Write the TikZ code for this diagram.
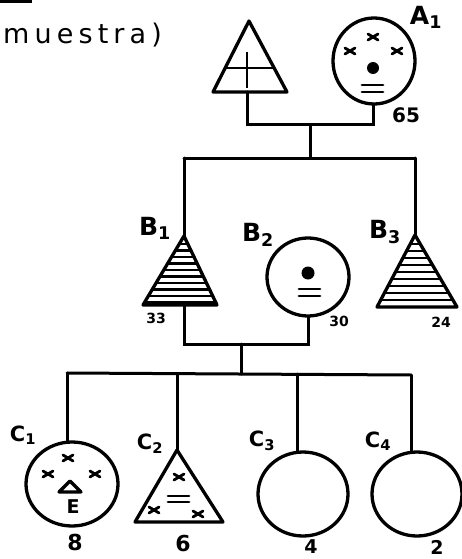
\documentclass[tikz,border=0pt]{standalone}
\usepackage{fontspec}
\setmainfont{DejaVu Sans}
\newfontfamily\typefont[LetterSpace=19]{DejaVu Sans}
\tikzset{
  sym/.style={line width=3.3pt, line join=round},
  conn/.style={line width=3pt, line cap=round},
  xstroke/.style={line width=2.8pt, line cap=round},
  hatch/.style={line width=2.2pt},
  lbl/.style={font=\bfseries\fontsize{25}{25}\selectfont, inner sep=0pt},
  clbl/.style={font=\bfseries\fontsize{21}{21}\selectfont, inner sep=0pt},
  num/.style={font=\bfseries\fontsize{14}{14}\selectfont, inner sep=0pt},
  big/.style={font=\bfseries\fontsize{22}{22}\selectfont, inner sep=0pt},
  low/.style={font=\bfseries\fontsize{19}{19}\selectfont, inner sep=0pt},
}
\newcommand{\xmk}[2]{\draw[xstroke] (#1-5,#2-3) -- (#1+5,#2+3) (#1-5,#2+3) -- (#1+5,#2-3);}
\begin{document}
\begin{tikzpicture}[x=1pt,y=-1pt]
\useasboundingbox (0,0) rectangle (461,559);
% top-left remnant bar and caption
\fill (0,0) rectangle (32,3.5);
\node[anchor=west, inner sep=0pt] (title) at (3,35) {\typefont\fontsize{27}{27}\selectfont muestra)};

% ---------- generation A ----------
% father (triangle)
\coordinate (Fapex) at (249,21);
\coordinate (Fl) at (213,92);
\coordinate (Fr) at (287,92);
\coordinate (Fb) at (247,92);
\draw[sym] (Fapex) -- (Fr) -- (Fl) -- cycle;
\draw[line width=2.8pt] (225,68) -- (274,68);
\draw[line width=2.6pt] (247,52) -- (247,88);
% mother A1 (circle)
\coordinate (A1c) at (374,61);
\coordinate (A1b) at (373,104);
\draw[sym] (A1c) ellipse [x radius=41pt, y radius=43pt];
\xmk{373}{37}\xmk{350}{51}\xmk{397}{51}
\fill (373,68) circle [radius=6pt];
\draw[xstroke] (362,85) -- (383,85) (362,92) -- (383,92);
\node[lbl] (A1) at (426,17) {A\textsubscript{1}};
\node[num, font=\bfseries\fontsize{20}{20}\selectfont] (n65) at (406,115) {65};
% couple line
\coordinate (cA) at (310,125);
\coordinate (sA) at (310,158);
\draw[conn] (Fb) |- (cA) -| (A1b);
\draw[conn] (cA) -- (sA);

% ---------- generation B ----------
\coordinate (B1a) at (184,236);
\coordinate (B1b) at (184,305);
\coordinate (B3a) at (415,235);
\coordinate (B2t) at (308,237);
\coordinate (B2b) at (308,317);
\coordinate (sBl) at (184,158);
\coordinate (sBr) at (415,158);
\draw[conn] (sBl) -- (sBr);
\draw[conn] (sBl) -- (B1a);
\draw[conn] (sBr) -- (B3a);
% B1 hatched triangle
\begin{scope}
  \clip (B1a) -- (217,305) -- (143,305) -- cycle;
  \foreach \yy in {244,250.5,...,305} \draw[hatch] (140,\yy) -- (220,\yy);
\end{scope}
\draw[sym] (B1a) -- (217,305) -- (143,305) -- cycle;
\node[lbl] (B1) at (155,228) {B\textsubscript{1}};
\node[num] (n33) at (156,318) {33};
% B2 circle
\draw[sym] (308,277) ellipse [x radius=41pt, y radius=39pt];
\fill (308,273) circle [radius=6.5pt];
\draw[xstroke] (299,289) -- (320,289) (299,296) -- (320,296);
\node[lbl] (B2) at (258,235) {B\textsubscript{2}};
\node[num] (n30) at (339,321) {30};
% B3 hatched triangle
\begin{scope}
  \clip (B3a) -- (457,307) -- (377,307) -- cycle;
  \foreach \yy in {244,251,...,307} \draw[hatch] (370,\yy) -- (460,\yy);
\end{scope}
\draw[sym] (B3a) -- (457,307) -- (377,307) -- cycle;
\node[lbl] (B3) at (385,232) {B\textsubscript{3}};
\node[num] (n24) at (441,322) {24};
% B1 x B2 couple line
\coordinate (cB) at (241,344);
\coordinate (sC) at (241,374);
\draw[conn] (B1b) |- (cB) -| (B2b);
\draw[conn] (cB) -- (sC);

% ---------- generation C ----------
\coordinate (sCl) at (67,373);
\coordinate (sCr) at (411,375);
\coordinate (C1t) at (67,442);
\coordinate (C2t) at (177,450);
\coordinate (C3t) at (297,451);
\coordinate (C4t) at (411,451);
\draw[conn] (sCl) -- (sCr);
\draw[conn] (sCl) -- (C1t);
\draw[conn] (177,373.3) -- (C2t);
\draw[conn] (297,374) -- (C3t);
\draw[conn] (sCr) -- (C4t);
% C1
\draw[sym] (72,484) ellipse [x radius=46pt, y radius=42pt];
\xmk{68}{458}\xmk{48}{474}\xmk{95}{474}
\draw[line width=3.3pt, line join=round] (70,481) -- (81,492) -- (59,492) -- cycle;
\node[font=\bfseries\fontsize{19}{19}\selectfont, inner sep=0pt] (E) at (73,507) {E};
\node[clbl] (C1) at (23,435) {C\textsubscript{1}};
\node[big] (n8) at (75,542) {8};
% C2
\draw[sym] (C2t) -- (223,522) -- (135,522) -- cycle;
\xmk{179}{477}\xmk{154}{510}\xmk{198}{514}
\draw[xstroke] (168,496) -- (189,496) (168,502) -- (189,502);
\node[clbl] (C2) at (150,444) {C\textsubscript{2}};
\node[big] (n6) at (183,543) {6};
% C3
\draw[sym] (303,494) ellipse [x radius=45pt, y radius=42pt];
\node[clbl] (C3) at (262,441) {C\textsubscript{3}};
\node[low] (n4) at (311,547) {4};
% C4
\draw[sym] (417,494) ellipse [x radius=45pt, y radius=42pt];
\node[clbl] (C4) at (378,441) {C\textsubscript{4}};
\node[low] (n2) at (437,547) {2};
\end{tikzpicture}
\end{document}
